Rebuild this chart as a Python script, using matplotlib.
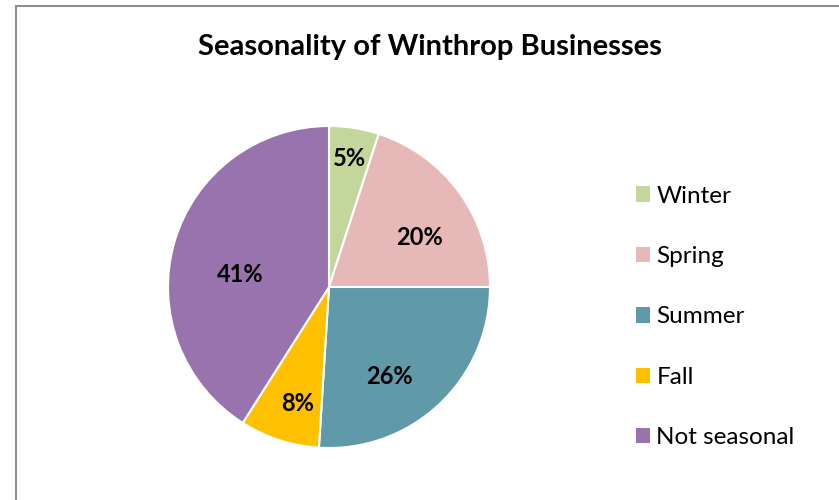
import matplotlib.pyplot as plt
import numpy as np
from matplotlib.patches import Rectangle

# data
seasons = ["Winter", "Spring", "Summer", "Fall", "Not seasonal"]
shares = [5, 20, 26, 8, 41]
colors = ["#C3D69B", "#E6B9B8", "#6099A8", "#FFC000", "#9873AE"]
# label placement tweaks to mimic Excel "best fit"
label_dist = [0.81, 0.64, 0.67, 0.75, 0.56]
label_turn = [0, -7, -9, 3, 8]

plt.rcParams['font.family'] = ['Lato', 'DejaVu Sans']

fig = plt.figure(figsize=(8.39, 5), dpi=100)

# chart border (only top/left visible in the original crop)
fig.patches.append(Rectangle((16 / 839, -0.1), 2.0, 1.1 - 6 / 500, transform=fig.transFigure,
                             fill=False, edgecolor="#8C8C8C", linewidth=1.5))

R = 161
cx, cy = 329, 287
ax = fig.add_axes([(cx - 170) / 839, (500 - cy - 170) / 500, 340 / 839, 340 / 500])
wedges, _ = ax.pie(shares, colors=colors, startangle=90, counterclock=False,
                   wedgeprops=dict(edgecolor="white", linewidth=1.5))
ax.set_xlim(-170 / R, 170 / R)
ax.set_ylim(-170 / R, 170 / R)
ax.set_aspect("equal")
ax.axis("off")

for w, v, d, t in zip(wedges, shares, label_dist, label_turn):
    ang = np.deg2rad((w.theta1 + w.theta2) / 2 + t)
    ax.text(d * np.cos(ang), d * np.sin(ang), f"{v}%", ha="center", va="center",
            fontsize=17, fontweight="bold", color="black")

fig.text(430 / 839, 1 - 47 / 500, "Seasonality of Winthrop Businesses",
         ha="center", va="center", fontsize=21, fontweight="bold")

leg = fig.legend(wedges, seasons, loc="upper left", bbox_to_anchor=(626 / 839, 1 - 176 / 500),
                 frameon=False, fontsize=17.5, handlelength=0.6, handleheight=0.6,
                 handletextpad=0.25, labelspacing=1.62, borderaxespad=0)
for h in leg.legend_handles:
    h.set_edgecolor("none")

fig.savefig("out.png", dpi=100)
